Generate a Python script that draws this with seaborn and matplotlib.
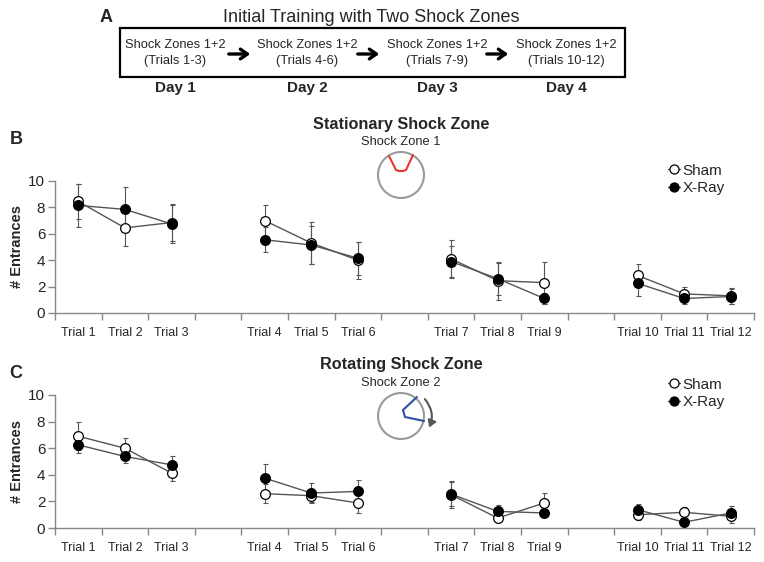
# active place avoidance - entrances per trial, sham vs x-ray
import numpy as np
import pandas as pd
import matplotlib
matplotlib.use("Agg")
import matplotlib.pyplot as plt
import seaborn as sns
from matplotlib.lines import Line2D
from matplotlib.patches import Rectangle, Circle, FancyArrowPatch

sns.set_style("ticks")
plt.rcParams["font.family"] = ["Liberation Sans", "DejaVu Sans"]

# the data
trials = list(range(1, 13))
trial_labels = ["Trial %d" % t for t in trials]
days = [1, 1, 1, 2, 2, 2, 3, 3, 3, 4, 4, 4]
groups = ["Sham", "X-Ray"]

# B: stationary shock zone
stat_sham = [8.45, 6.45, 6.85, 7.0, 5.3, 4.0, 4.1, 2.45, 2.3, 2.85, 1.45, 1.3]
stat_sham_err = [1.3, 1.4, 1.4, 1.15, 1.6, 1.4, 1.45, 1.45, 1.6, 0.85, 0.55, 0.6]
stat_xray = [8.15, 7.85, 6.75, 5.55, 5.15, 4.15, 3.9, 2.6, 1.1, 2.25, 1.1, 1.25]
stat_xray_err = [1.6, 1.7, 1.45, 0.95, 1.45, 1.25, 1.15, 1.2, 0.4, 0.95, 0.4, 0.6]

# C: rotating shock zone
rot_sham = [6.9, 6.0, 4.13, 2.58, 2.43, 1.88, 2.5, 0.75, 1.88, 1.0, 1.18, 0.88]
rot_sham_err = [1.05, 0.75, 0.63, 0.7, 0.5, 0.75, 1.0, 0.25, 0.75, 0.38, 0.4, 0.5]
rot_xray = [6.25, 5.38, 4.75, 3.75, 2.63, 2.75, 2.55, 1.25, 1.13, 1.38, 0.43, 1.13]
rot_xray_err = [0.6, 0.5, 0.68, 1.05, 0.75, 0.83, 0.9, 0.5, 0.25, 0.42, 0.1, 0.5]

# panel A text
box_lines = ["Shock Zones 1+2\n(Trials 1-3)", "Shock Zones 1+2\n(Trials 4-6)",
             "Shock Zones 1+2\n(Trials 7-9)", "Shock Zones 1+2\n(Trials 10-12)"]
day_labels = ["Day 1", "Day 2", "Day 3", "Day 4"]


def make_df(sham, sham_err, xray, xray_err):
    rows = []
    for g, vals, errs in [("Sham", sham, sham_err), ("X-Ray", xray, xray_err)]:
        for t, d, v, e in zip(trials, days, vals, errs):
            # one empty slot between days
            rows.append({"trial": t, "slot": (t - 1) + (t - 1) // 3, "day": d,
                         "group": g, "entrances": v, "sem": e})
    return pd.DataFrame(rows)


def draw_panel(ax, df):
    faces = {"Sham": "white", "X-Ray": "black"}
    for g in groups:
        sub = df[df["group"] == g]
        ax.errorbar(sub["slot"], sub["entrances"], yerr=sub["sem"], fmt="none",
                    ecolor="#555555", elinewidth=0.8, capsize=1.8, capthick=0.8, zorder=2)
        sns.lineplot(data=sub, x="slot", y="entrances", units="day", estimator=None,
                     color="#555555", lw=1, marker="o", markersize=7,
                     markerfacecolor=faces[g], markeredgecolor="black",
                     markeredgewidth=0.9, ax=ax, zorder=3)
    slots = sorted(df["slot"].unique())
    ax.set_xlim(-0.5, 14.5)
    ax.set_ylim(0, 10)
    ax.set_xticks(np.arange(-0.5, 15, 1))
    ax.set_xticklabels([])
    ax.set_xticks(slots, minor=True)
    ax.set_xticklabels(trial_labels, minor=True)
    ax.set_yticks([0, 2, 4, 6, 8, 10])
    ax.tick_params(axis="x", which="major", length=5, width=1, color="#888888")
    ax.tick_params(axis="x", which="minor", length=0, pad=10, labelsize=9)
    ax.tick_params(axis="y", length=5, width=1, color="#888888", pad=2, labelsize=11)
    sns.despine(ax=ax)
    for s in ["left", "bottom"]:
        ax.spines[s].set_color("#888888")
        ax.spines[s].set_linewidth(1)
    ax.set_xlabel("")
    ax.set_ylabel("# Entrances", fontweight="bold", fontsize=10.5)
    ax.yaxis.set_label_coords(-0.045, 0.5)
    ax.set_facecolor("none")


stat_df = make_df(stat_sham, stat_sham_err, stat_xray, stat_xray_err)
rot_df = make_df(rot_sham, rot_sham_err, rot_xray, rot_xray_err)

W, H = 764, 562
fig = plt.figure(figsize=(7.64, 5.62), dpi=100)

# overlay in pixel coords for panel A and the arena icons
ov = fig.add_axes([0, 0, 1, 1])
ov.set_xlim(0, W)
ov.set_ylim(H, 0)
ov.axis("off")

axB = fig.add_axes([55 / W, 1 - 313 / H, 699 / W, 132 / H])
axC = fig.add_axes([55 / W, 1 - 528 / H, 699 / W, 133 / H])
draw_panel(axB, stat_df)
draw_panel(axC, rot_df)

# panel A
ov.text(106, 17, "A", fontsize=13, fontweight="bold", ha="center", va="center")
ov.text(371, 17, "Initial Training with Two Shock Zones", fontsize=13, ha="center", va="center")
ov.add_patch(Rectangle((120, 28), 505, 49, fill=False, ec="black", lw=1.6))
box_x = [175, 307, 437, 566]
for x, txt, d in zip(box_x, box_lines, day_labels):
    ov.text(x, 53, txt, fontsize=9.3, ha="center", va="center", linespacing=1.5)
    ov.text(x, 88, d, fontsize=11, fontweight="bold", ha="center", va="center")
for x0, x1 in [(226, 253), (355, 382), (484, 511)]:
    ov.annotate("", xy=(x1, 54), xytext=(x0, 54),
                arrowprops=dict(arrowstyle="->,head_length=0.5,head_width=0.35", lw=2.4, color="black"))

# panel titles
ov.text(16, 139, "B", fontsize=13, fontweight="bold", ha="center", va="center")
ov.text(401, 125, "Stationary Shock Zone", fontsize=11.7, fontweight="bold", ha="center", va="center")
ov.text(401, 142, "Shock Zone 1", fontsize=9.3, ha="center", va="center")
ov.text(16, 373, "C", fontsize=13, fontweight="bold", ha="center", va="center")
ov.text(401, 365, "Rotating Shock Zone", fontsize=11.7, fontweight="bold", ha="center", va="center")
ov.text(401, 383, "Shock Zone 2", fontsize=9.3, ha="center", va="center")

# arena icons
ov.add_patch(Circle((401, 175), 23, fill=False, ec="#9a9a9a", lw=1.5))
ov.plot([389, 396, 399, 403, 406, 413], [156, 170, 171, 171, 170, 155], color="#e8342c", lw=1.5)
ov.add_patch(Circle((401, 416), 23, fill=False, ec="#9a9a9a", lw=1.5))
ov.plot([417, 403, 405, 424], [397, 410, 417, 421], color="#2e4fa8", lw=1.5)
ov.add_patch(FancyArrowPatch((423, 397), (428, 430), connectionstyle="arc3,rad=-0.35",
                             arrowstyle="-|>,head_length=4,head_width=2.5", color="#555555", lw=1.5))

# legends
handles = [Line2D([0], [0], color="#555555", lw=1, marker="o", markersize=6.5,
                  markerfacecolor=f, markeredgecolor="black", markeredgewidth=0.9)
           for f in ["white", "black"]]
for yc in [179.5, 393.5]:
    fig.legend(handles, groups, loc="center left", bbox_to_anchor=(668 / W, 1 - yc / H),
               frameon=False, fontsize=11, handlelength=0.8, handletextpad=0.15,
               labelspacing=0.25, borderpad=0, borderaxespad=0)

fig.savefig("out.png", dpi=100)
